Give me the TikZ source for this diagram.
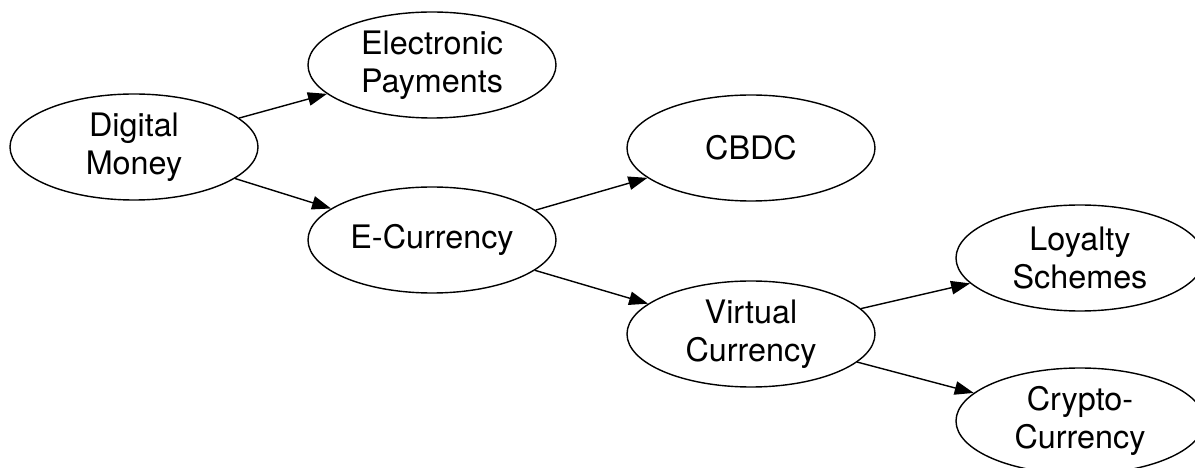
\documentclass[tikz,border=0pt]{standalone}
\usepackage{fontspec}
\setmainfont{TeX Gyre Heros}
\usetikzlibrary{positioning}
\usetikzlibrary{shapes.geometric}
\usetikzlibrary{arrows.meta}
\tikzset{>={Triangle[length=3.8mm,width=2.7mm]}}
\tikzset{term/.style={draw, ellipse, line width=0.8pt, minimum width=4.96cm, minimum height=2.12cm, inner sep=0pt, align=center, font=\fontsize{18.4}{21.6}\selectfont}}
\tikzset{edge/.style={->, line width=0.8pt}}

\begin{document}
\begin{tikzpicture}
\useasboundingbox (0,0) rectangle (23.9,-9.36);

\node[term] (dm) at (2.68, -2.94) {Digital\\Money};
\node[term] (ep) at (8.64, -1.30) {Electronic\\Payments};
\node[term] (ec) at (8.64, -4.80) {E-Currency};
\node[term] (cbdc) at (15.02, -2.96) {CBDC};
\node[term] (vc) at (15.02, -6.68) {Virtual\\Currency};
\node[term] (ls) at (21.6, -5.16) {Loyalty\\Schemes};
\node[term] (cc) at (21.6, -8.42) {Crypto-\\Currency};

\draw[edge] (dm) -- (ep);
\draw[edge] (dm) -- (ec);
\draw[edge] (ec) -- (cbdc);
\draw[edge] (ec) -- (vc);
\draw[edge] (vc) -- (ls);
\draw[edge] (vc) -- (cc);
\end{tikzpicture}
\end{document}
